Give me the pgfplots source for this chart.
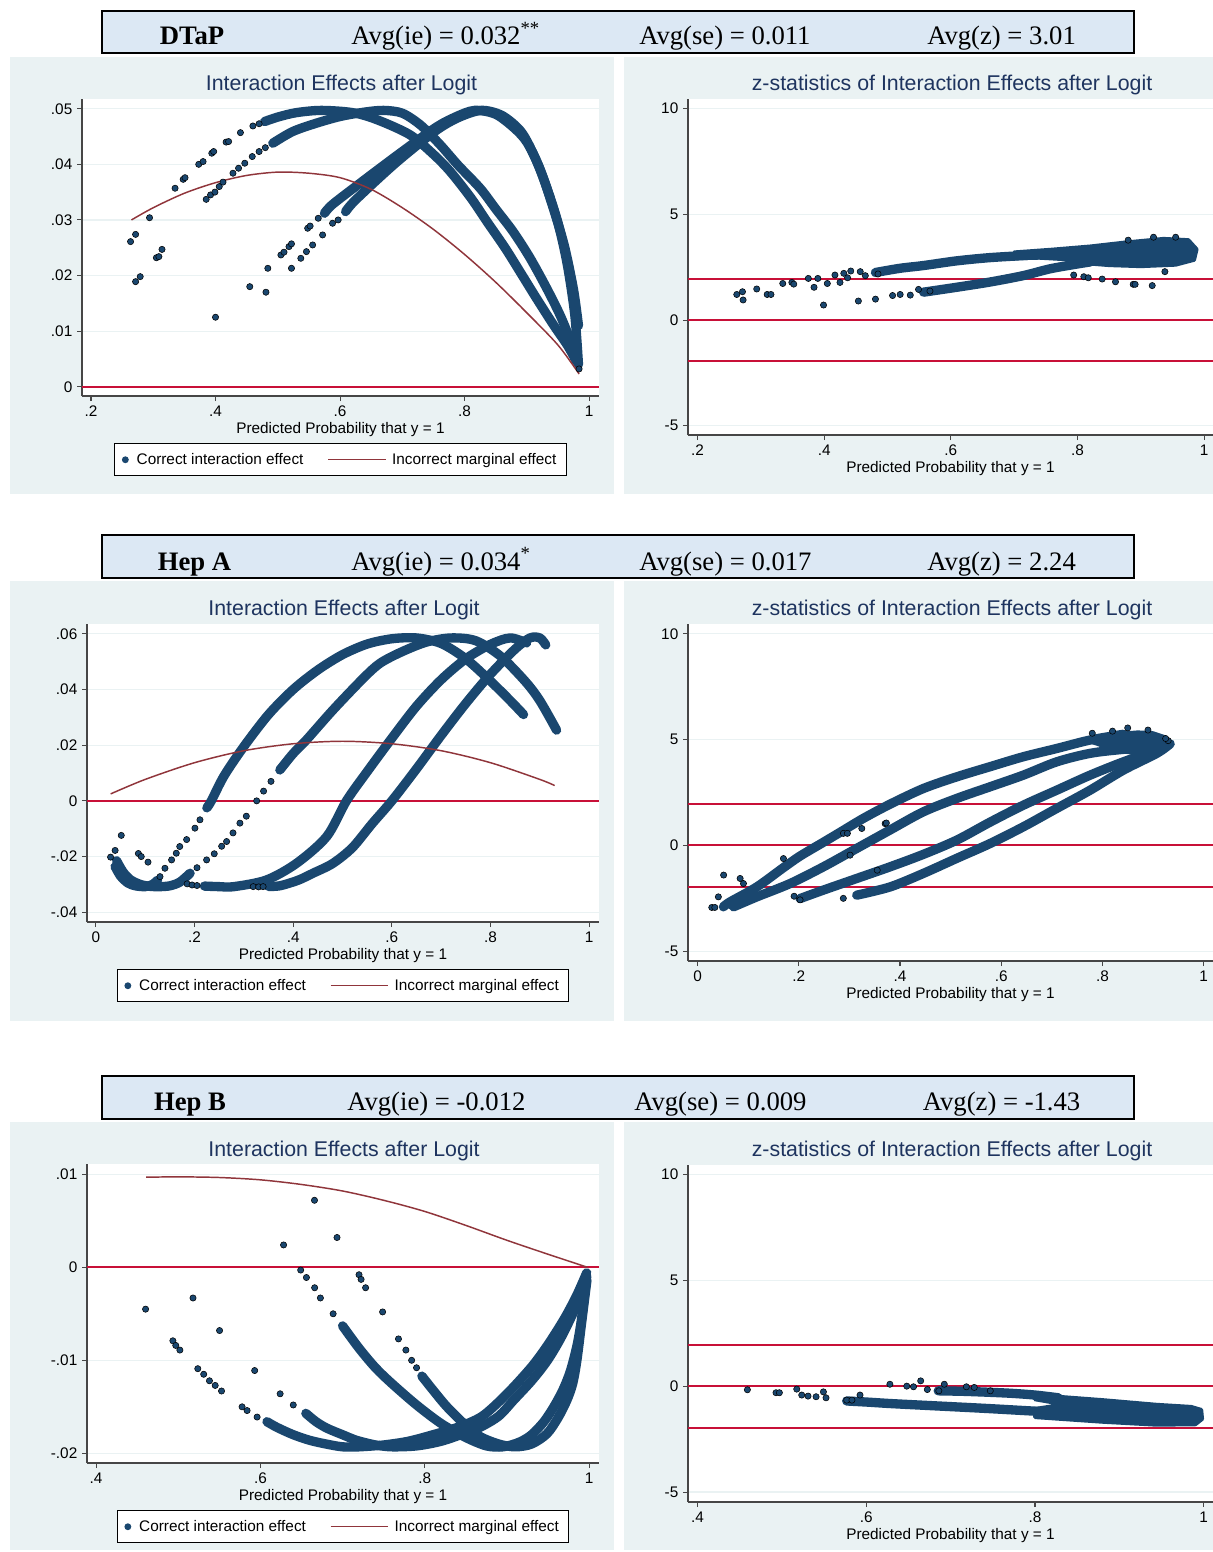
\documentclass[border=0pt]{standalone}
\usepackage{fontspec}
\setmainfont{Liberation Sans}
\newfontfamily\timesf{Liberation Serif}
\usepackage{pgfplots}
\pgfplotsset{compat=1.18}
\definecolor{navy}{RGB}{26,71,111}
\definecolor{maroonc}{RGB}{144,53,59}
\definecolor{refred}{RGB}{200,16,56}
\definecolor{bgpanel}{RGB}{234,242,243}
\definecolor{hdrfill}{RGB}{220,232,244}
\definecolor{titlec}{RGB}{30,52,95}
\definecolor{axisc}{RGB}{70,70,70}
\newcommand{\smallf}{\fontsize{11.5}{13}\selectfont}
\pgfplotsset{
  stata/.style={
    scale only axis, anchor=north west,
    axis x line*=bottom, axis y line*=left,
    axis line style={-, draw=axisc, line width=0.9pt},
    axis background/.style={fill=white},
    tick align=outside, major tick length=3.75pt,
    tick style={axisc, line width=0.8pt},
    scaled ticks=false,
    ymajorgrids, grid style={bgpanel, line width=0.9pt},
    ticklabel style={font=\smallf},
    xlabel style={font=\smallf, at={(axis description cs:0.5,0)}, anchor=center, yshift=-25.5pt},
    /pgf/number format/assume math mode=true,
    legend style={at={(axis description cs:0.5,0)}, anchor=center, yshift=-47.8pt,
      legend columns=2, draw=black, line width=0.9pt, fill=white, font=\smallf,
      /tikz/every even column/.append style={column sep=16pt}, inner xsep=5.5pt, inner ysep=5pt},
  },
  dots/.style={only marks, mark=*, mark size=2.35pt, mark options={fill=navy, draw=none}},
  band/.style={navy, line width=7pt, line cap=round, line join=round, smooth, no markers},
  blob/.style={fill=navy, draw=navy, line width=3pt, line join=round, no markers},
  refline/.style={refred, line width=1.5pt, no markers},
  margc/.style={maroonc, line width=1.1pt, smooth, no markers},
  dotleg/.style={navy, legend image code/.code={\path[draw=none, fill=none] (0pt,0pt) -- (9pt,0pt); \fill[navy] (2.5pt,0pt) circle (2.1pt);}},
  lineleg/.style={maroonc, line width=1.1pt, legend image code/.code={\path[draw=none, fill=none] (0pt,0pt) -- (46pt,0pt); \draw[##1] (0pt,0pt) -- (43pt,0pt);}},
}
\begin{document}
\begin{tikzpicture}
\begin{scope}[x=0.75pt, y=-0.75pt]
\fill[bgpanel] (10,57) rectangle (614,494);
\fill[bgpanel] (624,57) rectangle (1213,494);
\fill[bgpanel] (10,581) rectangle (614,1021);
\fill[bgpanel] (624,581) rectangle (1213,1021);
\fill[bgpanel] (10,1122) rectangle (614,1550);
\fill[bgpanel] (624,1122) rectangle (1213,1550);
\end{scope}

% ===== Row 1 left: DTaP interaction effects =====
\begin{axis}[stata, at={(61.5pt,-74.25pt)}, width=387.75pt, height=222.75pt,
  xmin=0.1855, xmax=1.016, ymin=-0.00167, ymax=0.05175,
  xtick={0.2,0.4,0.6,0.8,1}, xticklabels={.2,.4,.6,.8,1},
  ytick={0,0.01,0.02,0.03,0.04,0.05}, yticklabels={0,.01,.02,.03,.04,.05},
  xlabel={Predicted Probability that y = 1}]
\addlegendimage{dotleg}
\addlegendimage{lineleg}
\addplot[refline] coordinates {(0.1855,0) (1.016,0)};
\addplot[band] coordinates {(0.479,0.0477)(0.50,0.0485)(0.53,0.0493)(0.57,0.0497)(0.62,0.0493)(0.66,0.0480)(0.7125,0.0453)(0.75,0.0418)(0.777,0.0387)(0.81,0.0340)(0.836,0.0297)(0.865,0.0250)(0.889,0.0207)(0.915,0.0160)(0.943,0.0111)(0.965,0.0075)(0.98,0.0045)};
\addplot[band] coordinates {(0.492,0.0438)(0.524,0.0459)(0.562,0.0474)(0.60,0.0486)(0.64,0.0494)(0.67,0.0497)(0.70,0.0492)(0.73,0.0470)(0.761,0.0435)(0.79,0.0398)(0.825,0.0357)(0.85,0.0320)(0.878,0.0279)(0.905,0.0232)(0.932,0.0177)(0.955,0.0125)(0.975,0.0069)(0.982,0.0045)};
\addplot[band] coordinates {(0.575,0.0312)(0.587,0.0327)(0.625,0.0360)(0.689,0.0414)(0.752,0.0465)(0.785,0.0485)(0.816,0.0497)(0.85,0.0490)(0.88,0.0465)(0.90,0.0440)(0.92,0.0395)(0.94,0.0330)(0.96,0.0255)(0.975,0.0175)(0.983,0.0110)};
\addplot[band] coordinates {(0.609,0.0315)(0.625,0.0336)(0.689,0.0402)(0.752,0.0459)(0.79,0.0484)(0.827,0.0497)(0.86,0.0488)(0.89,0.0460)(0.91,0.0420)(0.93,0.0365)(0.95,0.0295)(0.965,0.0220)(0.977,0.0130)(0.983,0.0040)};
\addplot[dots] coordinates {(0.335,0.0357)(0.348,0.0373)(0.351,0.0376)(0.373,0.0400)(0.380,0.0405)(0.394,0.0420)(0.397,0.0423)(0.417,0.0440)(0.421,0.0441)(0.440,0.0457)(0.460,0.0469)(0.470,0.0473)
(0.385,0.0337)(0.392,0.0345)(0.399,0.0350)(0.406,0.0360)(0.412,0.0368)(0.428,0.0384)(0.437,0.0393)(0.447,0.0402)(0.459,0.0414)(0.470,0.0423)(0.480,0.0430)
(0.484,0.0213)(0.505,0.0237)(0.510,0.0242)(0.518,0.0252)(0.522,0.0257)(0.548,0.0285)(0.552,0.0289)(0.565,0.0303)
(0.522,0.0213)(0.537,0.0231)(0.546,0.0243)(0.556,0.0255)(0.572,0.0273)(0.588,0.0294)(0.597,0.0300)
(0.2635,0.0261)(0.2716,0.0274)(0.2716,0.0189)(0.279,0.0198)(0.294,0.0304)(0.305,0.0232)(0.309,0.0234)(0.314,0.0247)(0.400,0.0125)(0.455,0.0180)(0.481,0.0170)(0.984,0.0032)};
\addplot[margc] coordinates {(0.265,0.0300)(0.30,0.0322)(0.35,0.0348)(0.40,0.0367)(0.45,0.0380)(0.50,0.0386)(0.55,0.0384)(0.60,0.0376)(0.65,0.0355)(0.70,0.0322)(0.75,0.0283)(0.80,0.0238)(0.85,0.0188)(0.90,0.0133)(0.95,0.0075)(0.984,0.0023)};
\legend{Correct interaction effect, Incorrect marginal effect}
\end{axis}

% ===== Row 1 right: DTaP z =====
\begin{axis}[stata, at={(516pt,-74.25pt)}, width=393.75pt, height=252pt,
  xmin=0.185, xmax=1.014, ymin=-5.44, ymax=10.46,
  xtick={0.2,0.4,0.6,0.8,1}, xticklabels={.2,.4,.6,.8,1},
  ytick={-5,0,5,10}, yticklabels={-5,0,5,10},
  xlabel={Predicted Probability that y = 1}]
\addplot[refline] coordinates {(0.185,1.96) (1.014,1.96)};
\addplot[refline] coordinates {(0.185,0) (1.014,0)};
\addplot[refline] coordinates {(0.185,-1.96) (1.014,-1.96)};
\addplot[band] coordinates {(0.481,2.25)(0.52,2.45)(0.557,2.58)(0.609,2.80)(0.66,2.95)(0.714,3.05)(0.77,3.15)(0.82,3.25)};
\addplot[band] coordinates {(0.557,1.32)(0.609,1.55)(0.662,1.80)(0.714,2.10)(0.756,2.42)(0.793,2.62)(0.82,2.75)};
\addplot[blob] coordinates {(0.70,3.20)(0.76,3.33)(0.82,3.48)(0.873,3.66)(0.936,3.84)(0.975,3.78)(0.988,3.35)(0.984,2.85)(0.955,2.62)(0.90,2.55)(0.85,2.60)(0.80,2.72)(0.78,2.88)(0.74,2.95)(0.70,2.92)} -- cycle;
\addplot[dots] coordinates {(0.262,1.21)(0.271,1.34)(0.272,0.95)(0.2935,1.47)(0.310,1.21)(0.316,1.21)(0.3346,1.73)(0.349,1.78)(0.352,1.70)(0.375,1.97)(0.384,1.55)(0.390,1.97)(0.399,0.71)(0.405,1.73)(0.417,2.13)(0.425,1.78)(0.431,2.21)(0.437,2.00)(0.442,2.32)(0.454,0.90)(0.457,2.29)(0.465,2.10)(0.481,0.99)(0.485,2.18)(0.508,1.16)(0.520,1.21)(0.536,1.18)(0.549,1.45)(0.567,1.37)(0.794,2.13)(0.81,2.05)(0.817,2.00)(0.839,1.94)(0.86,1.81)(0.888,1.69)(0.891,1.69)(0.918,1.63)(0.938,2.29)(0.88,3.78)(0.92,3.92)(0.955,3.92)};
\end{axis}

% ===== Row 2 left: Hep A =====
\begin{axis}[stata, at={(65.25pt,-468pt)}, width=384pt, height=223.5pt,
  xmin=-0.018, xmax=1.02, ymin=-0.0435, ymax=0.0635,
  xtick={0,0.2,0.4,0.6,0.8,1}, xticklabels={0,.2,.4,.6,.8,1},
  ytick={-0.04,-0.02,0,0.02,0.04,0.06}, yticklabels={-.04,-.02,0,.02,.04,.06},
  xlabel={Predicted Probability that y = 1}]
\addlegendimage{dotleg}
\addlegendimage{lineleg}
\addplot[refline] coordinates {(-0.018,0) (1.02,0)};
\addplot[band] coordinates {(0.039,-0.0236)(0.05,-0.0270)(0.065,-0.0295)(0.08,-0.0305)(0.10,-0.0308)(0.115,-0.0300)(0.125,-0.0285)};
\addplot[band] coordinates {(0.225,-0.0025)(0.234,0)(0.26,0.0090)(0.30,0.0195)(0.35,0.0310)(0.40,0.0400)(0.45,0.0470)(0.50,0.0525)(0.55,0.0563)(0.60,0.0582)(0.65,0.0585)(0.70,0.0565)(0.75,0.0510)(0.80,0.0430)(0.84,0.0360)(0.867,0.0310)};
\addplot[band] coordinates {(0.042,-0.0215)(0.055,-0.0255)(0.07,-0.0283)(0.09,-0.0300)(0.11,-0.0307)(0.13,-0.0308)(0.15,-0.0305)(0.17,-0.0292)(0.191,-0.0260)};
\addplot[band] coordinates {(0.373,0.0111)(0.40,0.0170)(0.427,0.0219)(0.481,0.0327)(0.542,0.0440)(0.576,0.0494)(0.62,0.0535)(0.67,0.0570)(0.72,0.0585)(0.77,0.0575)(0.82,0.0520)(0.87,0.0430)(0.90,0.0360)(0.934,0.0254)};
\addplot[band] coordinates {(0.22,-0.0306)(0.25,-0.0308)(0.28,-0.0308)(0.346,-0.0284)(0.407,-0.0224)(0.468,-0.0128)(0.508,0)(0.55,0.0105)(0.60,0.0225)(0.65,0.0340)(0.70,0.0435)(0.75,0.0510)(0.80,0.0562)(0.84,0.0585)(0.873,0.0567)};
\addplot[band] coordinates {(0.35,-0.0307)(0.373,-0.0305)(0.41,-0.0285)(0.44,-0.0260)(0.48,-0.0225)(0.52,-0.0168)(0.56,-0.0082)(0.60,0)(0.65,0.0115)(0.70,0.0235)(0.75,0.0350)(0.80,0.0455)(0.85,0.0545)(0.88,0.0585)(0.90,0.0585)(0.912,0.0560)};
\addplot[dots] coordinates {(0.0298,-0.0202)(0.039,-0.0178)(0.0515,-0.0124)(0.0862,-0.0189)(0.092,-0.0200)(0.1057,-0.0220)
(0.130,-0.0272)(0.14,-0.0242)(0.1535,-0.0212)(0.163,-0.0188)(0.170,-0.0164)(0.184,-0.0139)(0.2008,-0.0098)(0.211,-0.0068)
(0.205,-0.0240)(0.2245,-0.0212)(0.24,-0.0190)(0.255,-0.0163)(0.265,-0.0146)(0.278,-0.0115)(0.292,-0.0080)(0.305,-0.0055)(0.326,0)(0.34,0.0035)(0.355,0.0070)
(0.185,-0.0298)(0.195,-0.0302)(0.205,-0.0304)(0.319,-0.0308)(0.33,-0.0309)(0.339,-0.0308)};
\addplot[margc] coordinates {(0.03,0.0025)(0.1,0.0077)(0.2,0.0137)(0.3,0.0180)(0.4,0.0205)(0.5,0.0214)(0.6,0.0205)(0.7,0.0180)(0.8,0.0137)(0.9,0.0077)(0.93,0.0055)};
\legend{Correct interaction effect, Incorrect marginal effect}
\end{axis}

% ===== Row 2 right: Hep A z =====
\begin{axis}[stata, at={(516pt,-468pt)}, width=393.75pt, height=252.75pt,
  xmin=-0.019, xmax=1.0186, ymin=-5.46, ymax=10.46,
  xtick={0,0.2,0.4,0.6,0.8,1}, xticklabels={0,.2,.4,.6,.8,1},
  ytick={-5,0,5,10}, yticklabels={-5,0,5,10},
  xlabel={Predicted Probability that y = 1}]
\addplot[refline] coordinates {(-0.019,1.96) (1.0186,1.96)};
\addplot[refline] coordinates {(-0.019,0) (1.0186,0)};
\addplot[refline] coordinates {(-0.019,-1.96) (1.0186,-1.96)};
\addplot[band] coordinates {(0.051,-2.90)(0.064,-2.67)(0.117,-1.96)(0.1696,-1.05)(0.2026,-0.50)(0.2486,0.15)(0.2816,0.62)(0.3277,1.28)(0.3804,1.95)(0.4463,2.69)(0.5121,3.24)(0.578,3.72)(0.6437,4.19)(0.7098,4.58)(0.7757,4.98)(0.8416,5.25)};
\addplot[band] coordinates {(0.0708,-2.90)(0.117,-2.43)(0.1828,-1.80)(0.2486,-1.01)(0.3145,-0.14)(0.3804,0.73)(0.4463,1.59)(0.5121,2.22)(0.578,2.77)(0.6437,3.32)(0.7098,3.95)(0.7757,4.35)(0.8416,4.54)(0.9075,4.66)};
\addplot[band] coordinates {(0.2025,-2.51)(0.2486,-2.11)(0.3145,-1.56)(0.3804,-1.01)(0.4463,-0.42)(0.5121,0.25)(0.578,1.10)(0.6437,1.90)(0.7098,2.61)(0.7757,3.32)(0.8416,3.95)(0.9075,4.50)};
\addplot[band] coordinates {(0.3145,-2.35)(0.3804,-1.96)(0.4463,-1.32)(0.5121,-0.61)(0.578,0.09)(0.6437,0.88)(0.7098,1.75)(0.7757,2.61)(0.8416,3.56)(0.9075,4.35)(0.9339,4.80)};
\addplot[blob] coordinates {(0.77,4.95)(0.80,5.12)(0.84,5.28)(0.87,5.34)(0.90,5.30)(0.925,5.10)(0.932,4.82)(0.922,4.50)(0.90,4.32)(0.87,4.34)(0.84,4.45)(0.81,4.62)(0.79,4.80)} -- cycle;
\addplot[dots] coordinates {(0.028,-2.93)(0.034,-2.93)(0.041,-2.43)(0.0514,-1.40)(0.084,-1.56)(0.0906,-1.80)(0.1696,-0.62)(0.1907,-2.40)(0.2025,-2.57)(0.288,-2.50)(0.2882,0.57)(0.296,0.57)(0.3014,-0.46)(0.3245,0.80)(0.355,-1.17)(0.3706,1.03)(0.373,1.06)(0.85,5.55)(0.93,4.95)(0.925,5.05)(0.78,5.30)(0.82,5.40)(0.89,5.45)};
\end{axis}

% ===== Row 3 left: Hep B =====
\begin{axis}[stata, at={(65.25pt,-873pt)}, width=384pt, height=224.25pt,
  xmin=0.389, xmax=1.012, ymin=-0.02104, ymax=0.0111,
  xtick={0.4,0.6,0.8,1}, xticklabels={.4,.6,.8,1},
  ytick={-0.02,-0.01,0,0.01}, yticklabels={-.02,-.01,0,.01},
  xlabel={Predicted Probability that y = 1}]
\addlegendimage{dotleg}
\addlegendimage{lineleg}
\addplot[refline] coordinates {(0.389,0) (1.012,0)};
\addplot[band] coordinates {(0.608,-0.0166)(0.62,-0.0172)(0.64,-0.0180)(0.66,-0.0186)(0.68,-0.0190)(0.70,-0.0193)(0.72,-0.0193)(0.75,-0.0191)(0.78,-0.0187)(0.81,-0.0180)(0.84,-0.0172)(0.87,-0.0160)(0.90,-0.0136)(0.93,-0.0107)(0.95,-0.0083)(0.97,-0.0055)(0.985,-0.0030)(0.997,-0.0006)};
\addplot[band] coordinates {(0.6553,-0.0157)(0.6677,-0.0166)(0.681,-0.0173)(0.700,-0.0180)(0.717,-0.0186)(0.74,-0.0191)(0.76,-0.0193)(0.79,-0.0192)(0.82,-0.0187)(0.85,-0.0178)(0.8674,-0.0172)(0.89,-0.0160)(0.908,-0.0143)(0.93,-0.0122)(0.9486,-0.0101)(0.965,-0.0077)(0.981,-0.0048)(0.992,-0.0022)(0.997,-0.0008)};
\addplot[band] coordinates {(0.70,-0.0063)(0.72,-0.0087)(0.74,-0.0108)(0.76,-0.0125)(0.79,-0.0148)(0.82,-0.0168)(0.85,-0.0183)(0.875,-0.0192)(0.895,-0.0193)(0.915,-0.0188)(0.93,-0.0180)(0.945,-0.0166)(0.957,-0.0150)(0.968,-0.0132)(0.977,-0.0112)(0.985,-0.0085)(0.99,-0.0060)(0.995,-0.0025)(0.997,-0.0010)};
\addplot[band] coordinates {(0.7965,-0.0117)(0.81,-0.0132)(0.827,-0.0150)(0.85,-0.0170)(0.8674,-0.0182)(0.89,-0.0190)(0.91,-0.0193)(0.93,-0.0190)(0.9486,-0.0179)(0.962,-0.0162)(0.9729,-0.0143)(0.98,-0.0125)(0.9851,-0.0100)(0.9912,-0.0057)(0.9973,-0.0014)};
\addplot[dots] coordinates {(0.4603,-0.0045)(0.518,-0.0033)(0.5503,-0.0068)(0.6282,0.0024)(0.6658,0.0072)(0.6932,0.0032)
(0.4935,-0.0079)(0.497,-0.0084)(0.502,-0.0089)(0.5238,-0.0109)(0.531,-0.0115)(0.538,-0.0122)(0.545,-0.0127)(0.5527,-0.0133)(0.5777,-0.0150)(0.5838,-0.0154)(0.596,-0.0161)
(0.593,-0.0111)(0.624,-0.0136)(0.640,-0.0148)
(0.649,-0.0003)(0.656,-0.0011)(0.666,-0.0022)(0.673,-0.0033)(0.6885,-0.0050)
(0.720,-0.0008)(0.7225,-0.0013)(0.728,-0.0022)(0.7487,-0.0048)(0.768,-0.0077)(0.777,-0.0089)(0.784,-0.0100)(0.790,-0.0108)};
\addplot[margc] coordinates {(0.461,0.00968)(0.50,0.00972)(0.55,0.00965)(0.60,0.0094)(0.65,0.0089)(0.70,0.0082)(0.75,0.0072)(0.80,0.0060)(0.85,0.0045)(0.90,0.0029)(0.95,0.0014)(0.998,0.0)};
\legend{Correct interaction effect, Incorrect marginal effect}
\end{axis}

% ===== Row 3 right: Hep B z =====
\begin{axis}[stata, at={(516pt,-873.75pt)}, width=393.75pt, height=252.75pt,
  xmin=0.3887, xmax=1.011, ymin=-5.47, ymax=10.44,
  xtick={0.4,0.6,0.8,1}, xticklabels={.4,.6,.8,1},
  ytick={-5,0,5,10}, yticklabels={-5,0,5,10},
  xlabel={Predicted Probability that y = 1}]
\addplot[refline] coordinates {(0.3887,1.96) (1.011,1.96)};
\addplot[refline] coordinates {(0.3887,0) (1.011,0)};
\addplot[refline] coordinates {(0.3887,-1.96) (1.011,-1.96)};
\addplot[band] coordinates {(0.6853,-0.22)(0.72,-0.25)(0.7684,-0.33)(0.80,-0.42)(0.8277,-0.55)};
\addplot[band] coordinates {(0.5768,-0.70)(0.60,-0.75)(0.628,-0.82)(0.667,-0.90)(0.707,-0.98)(0.746,-1.06)(0.786,-1.15)(0.8277,-1.24)};
\addplot[blob] coordinates {(0.80,-0.42)(0.88,-0.66)(0.944,-0.88)(0.985,-0.98)(0.997,-1.12)(0.998,-1.55)(0.99,-1.80)(0.944,-1.82)(0.88,-1.68)(0.80,-1.46)(0.80,-1.08)(0.835,-0.86)(0.80,-0.62)} -- cycle;
\addplot[dots] coordinates {(0.4591,-0.17)(0.493,-0.31)(0.497,-0.31)(0.5176,-0.14)(0.5235,-0.42)(0.531,-0.47)(0.5405,-0.50)(0.5492,-0.27)(0.5523,-0.55)(0.5768,-0.66)(0.583,-0.66)(0.5926,-0.42)(0.628,0.09)(0.648,0.0)(0.656,-0.03)(0.6645,0.25)(0.6724,-0.16)(0.6925,0.09)(0.686,-0.22)(0.7186,-0.03)(0.728,-0.06)(0.7470,-0.22)};
\end{axis}

\begin{scope}[x=0.75pt, y=-0.75pt]
% headers
\foreach \yt/\yb in {11/53, 535/578, 1076/1119} {
  \draw[fill=hdrfill, line width=1.9pt] (102,\yt) rectangle (1134,\yb);
}
\begin{scope}[every node/.style={font=\timesf\fontsize{20}{24}\selectfont, inner sep=0pt}]
\node[anchor=base] at (192,45) {\textbf{DTaP}};
\node[anchor=base west] at (351,45) {Avg(ie) = 0.032\textsuperscript{**}};
\node[anchor=base west] at (639,45) {Avg(se) = 0.011};
\node[anchor=base west] at (927,45) {Avg(z) = 3.01};
\node[anchor=base] at (194.5,570) {\textbf{Hep A}};
\node[anchor=base west] at (351,570) {Avg(ie) = 0.034\textsuperscript{*}};
\node[anchor=base west] at (639,570) {Avg(se) = 0.017};
\node[anchor=base west] at (927,570) {Avg(z) = 2.24};
\node[anchor=base] at (190,1110) {\textbf{Hep B}};
\node[anchor=base west] at (347,1110) {Avg(ie) = -0.012};
\node[anchor=base west] at (634,1110) {Avg(se) = 0.009};
\node[anchor=base west] at (922.6,1110) {Avg(z) = -1.43};
\end{scope}
% panel titles
\begin{scope}[every node/.style={font=\fontsize{16}{19}\selectfont, text=titlec, inner sep=0pt}]
\node at (341.5,85) {Interaction Effects after Logit};
\node at (952,85) {z-statistics of Interaction Effects after Logit};
\node at (344,610) {Interaction Effects after Logit};
\node at (952,610) {z-statistics of Interaction Effects after Logit};
\node at (344,1151) {Interaction Effects after Logit};
\node at (952,1151) {z-statistics of Interaction Effects after Logit};
\end{scope}
\pgfresetboundingbox
\path[use as bounding box] (0,0) rectangle (1213,1552);
\end{scope}
\end{tikzpicture}
\end{document}
